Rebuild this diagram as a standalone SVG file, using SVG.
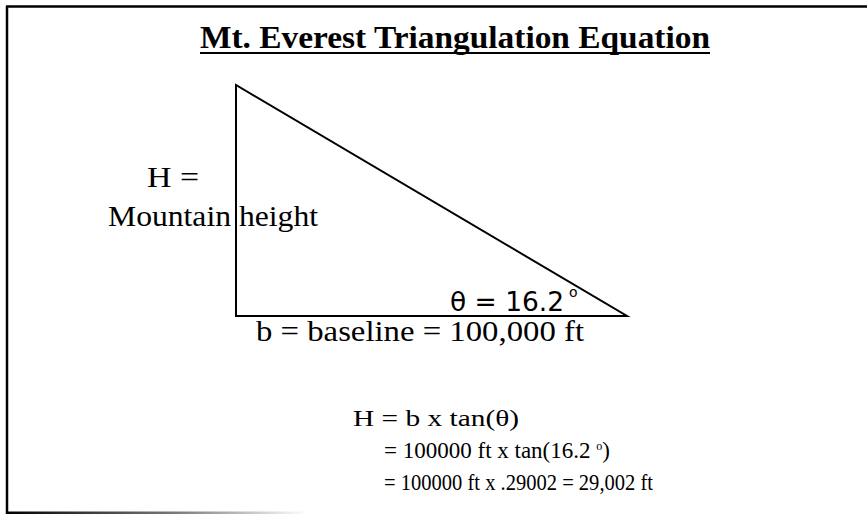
<svg xmlns="http://www.w3.org/2000/svg" width="867" height="514" viewBox="0 0 867 514">
<defs>
<linearGradient id="fade" x1="0" y1="0" x2="1" y2="0">
<stop offset="0" stop-color="#000"/>
<stop offset="0.55" stop-color="#777"/>
<stop offset="1" stop-color="#fff"/>
</linearGradient>
<style>
.t{font-family:"Liberation Serif","Times New Roman",serif;fill:#000}
.m{font-family:"DejaVu Sans","Noto Sans",sans-serif;fill:#000}
.ln{stroke:#000;stroke-width:2;fill:none}
</style>
</defs>
<rect width="867" height="514" fill="#fff"/>
<g id="frame">
<line x1="6" y1="6.5" x2="867" y2="6.5" stroke="#000" stroke-width="2.5"/>
<line x1="7" y1="6" x2="7" y2="514" stroke="#000" stroke-width="2.5"/>
<rect x="7" y="511.5" width="300" height="2.5" fill="url(#fade)"/>
</g>
<g id="title">
<text class="t" x="455" y="48" font-size="31" font-weight="bold" text-anchor="middle" textLength="510" lengthAdjust="spacingAndGlyphs">Mt. Everest Triangulation Equation</text>
<line x1="200" y1="53" x2="710" y2="53" stroke="#000" stroke-width="1.8"/>
</g>
<g id="triangle">
<polygon class="ln" points="236,85 236,316 627,316"/>
</g>
<g id="height-label">
<text class="t" x="173" y="187" font-size="29" text-anchor="middle" textLength="52" lengthAdjust="spacingAndGlyphs">H =</text>
<text class="t" x="108" y="226" font-size="29" textLength="210" lengthAdjust="spacingAndGlyphs">Mountain height</text>
</g>
<g id="angle-label">
<text class="m" x="450" y="311" font-size="27" textLength="114" lengthAdjust="spacingAndGlyphs">θ = 16.2</text>
<text class="m" x="569" y="297" font-size="14">o</text>
</g>
<g id="base-label">
<text class="t" x="256" y="341" font-size="29" textLength="328" lengthAdjust="spacingAndGlyphs">b = baseline = 100,000 ft</text>
</g>
<g id="equations">
<text class="t" x="353" y="426" font-size="23" textLength="166" lengthAdjust="spacingAndGlyphs">H = b x tan(θ)</text>
<text class="t" x="384" y="458" font-size="23">= 100000 ft x tan(16.2 <tspan font-size="12" dy="-8">o</tspan><tspan dy="8">)</tspan></text>
<text class="t" x="384" y="490" font-size="23" textLength="269" lengthAdjust="spacingAndGlyphs">= 100000 ft x .29002 = 29,002 ft</text>
</g>
</svg>
